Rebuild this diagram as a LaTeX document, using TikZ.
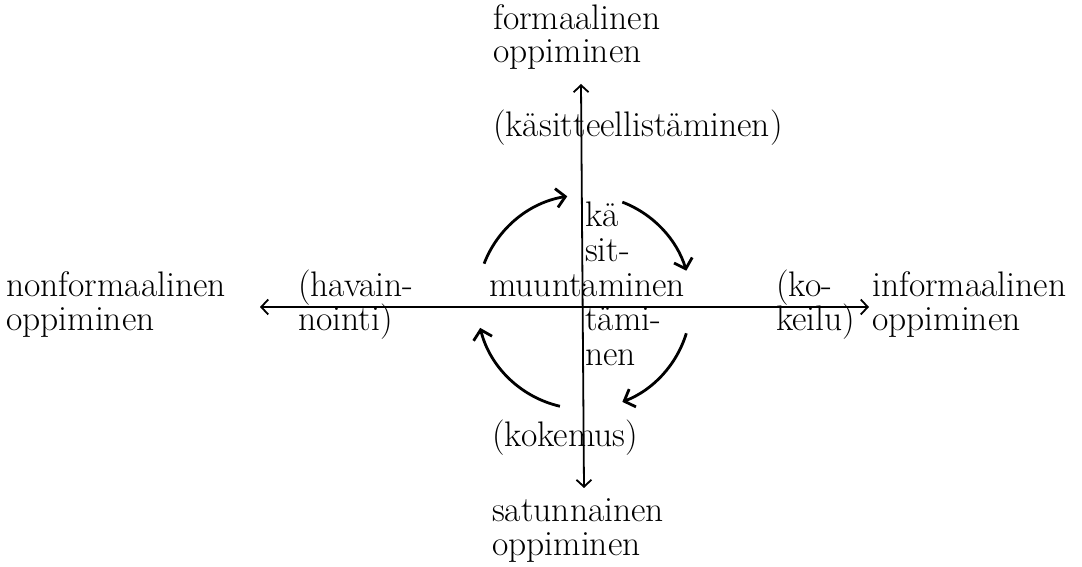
\documentclass[tikz,border=0pt]{standalone}
\usepackage{fontspec}
\usetikzlibrary{arrows.meta}
\begin{document}
\begin{tikzpicture}[x=1pt,y=1pt,
  lbl/.style={anchor=base west,inner sep=0pt,font=\fontsize{35.5}{36}\selectfont},
  axis/.style={line width=1.8pt,{Straight Barb[length=7pt,width=15pt,line width=1.8pt]}-{Straight Barb[length=7pt,width=15pt,line width=1.8pt]}},
  cyc/.style={line width=2.8pt,-{Straight Barb[length=9pt,width=19pt,line width=2.8pt]}}]
\useasboundingbox (0,0) rectangle (1082,567);
% axes
\coordinate (top) at (581,483);
\coordinate (bot) at (584,79);
\coordinate (lft) at (260,260);
\coordinate (rgt) at (869,260);
\coordinate (c) at (584,265);
\draw[axis] (lft) -- (rgt);
\draw[axis] (bot) -- (top);
% cycle arcs
\draw[cyc] ([shift={(159:107)}]c) arc[start angle=159,end angle=99,radius=107];
\draw[cyc] ([shift={(69:107)}]c) arc[start angle=69,end angle=17,radius=107];
\draw[cyc] ([shift={(-17:107)}]c) arc[start angle=-17,end angle=-69,radius=107];
\draw[cyc] ([shift={(-103:107)}]c) arc[start angle=-103,end angle=-166,radius=107];
% top
\node[lbl] (f1) at (493,537) {formaalinen};
\node[lbl] (f2) at (493,504) {oppiminen};
\node[lbl] (kas) at (493,430) {(käsitteellistäminen)};
% left
\node[lbl] (n1) at (6,270) {nonformaalinen};
\node[lbl] (n2) at (6,236) {oppiminen};
\node[lbl] (h1) at (298,270) {(havain-};
\node[lbl] (h2) at (298,236) {nointi)};
% centre
\node[lbl] (k1) at (585,340) {kä};
\node[lbl] (k2) at (585,305) {sit-};
\node[lbl] (mu) at (489,270) {muuntaminen};
\node[lbl] (k3) at (585,236) {tämi-};
\node[lbl] (k4) at (585,201) {nen};
% right
\node[lbl] (o1) at (776,270) {(ko-};
\node[lbl] (o2) at (776,236) {keilu)};
\node[lbl] (i1) at (872,270) {informaalinen};
\node[lbl] (i2) at (872,236) {oppiminen};
% bottom
\node[lbl] (kok) at (492,120) {(kokemus)};
\node[lbl] (s1) at (492,45) {satunnainen};
\node[lbl] (s2) at (492,11) {oppiminen};
\end{tikzpicture}
\end{document}
